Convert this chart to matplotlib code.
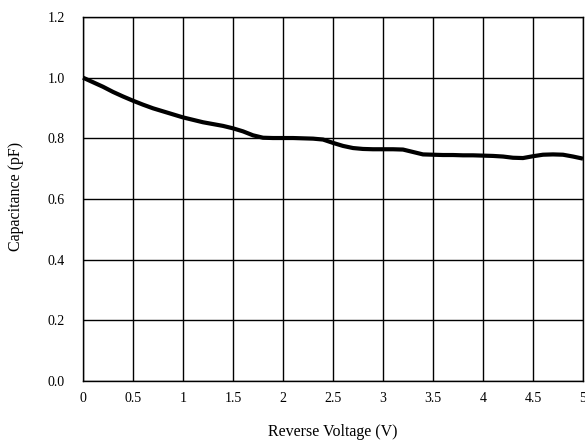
import matplotlib
matplotlib.use("Agg")
import matplotlib.pyplot as plt
import numpy as np

voltage = [0.0, 0.1, 0.2, 0.3, 0.4, 0.5, 0.6, 0.7, 0.8, 0.9, 1.0, 1.1, 1.2, 1.3, 1.4, 1.5, 1.6, 1.7, 1.8, 1.9,
           2.0, 2.1, 2.2, 2.3, 2.4, 2.5, 2.6, 2.7, 2.8, 2.9, 3.0, 3.1, 3.2, 3.3, 3.4, 3.5, 3.6, 3.7, 3.8, 3.9,
           4.0, 4.1, 4.2, 4.3, 4.4, 4.5, 4.6, 4.7, 4.8, 4.9, 5.0]
capacitance = [1.0, 0.985, 0.97, 0.953, 0.938, 0.924, 0.911, 0.899, 0.889, 0.879, 0.869, 0.861, 0.853, 0.847,
               0.841, 0.833, 0.823, 0.81, 0.802, 0.801, 0.801, 0.801, 0.800, 0.799, 0.796, 0.785, 0.775, 0.768,
               0.765, 0.764, 0.764, 0.764, 0.763, 0.755, 0.747, 0.746, 0.745, 0.745, 0.744, 0.744, 0.743, 0.742,
               0.740, 0.736, 0.735, 0.741, 0.746, 0.747, 0.746, 0.740, 0.733]
x_ticks = [0, 0.5, 1, 1.5, 2, 2.5, 3, 3.5, 4, 4.5, 5]
x_labels = ["0", "0.5", "1", "1.5", "2", "2.5", "3", "3.5", "4", "4.5", "5"]
y_ticks = [0.0, 0.2, 0.4, 0.6, 0.8, 1.0, 1.2]
y_labels = ["0.0", "0.2", "0.4", "0.6", "0.8", "1.0", "1.2"]

plt.rcParams['font.family'] = ['Liberation Serif', 'DejaVu Serif']

fig = plt.figure(figsize=(5.85, 4.44), dpi=100)
ax = fig.add_axes([83/585, 63/444, 500/585, 364/444])
ax.plot(voltage, capacitance, color='black', lw=3.0, solid_capstyle='butt', clip_on=False, zorder=3)
ax.set_xlim(0, 5)
ax.set_ylim(0, 1.2)
ax.set_xticks(x_ticks)
ax.set_xticklabels(x_labels)
ax.set_yticks(y_ticks)
ax.set_yticklabels(y_labels)
ax.grid(True, color='black', lw=1.0)
ax.set_axisbelow(True)
for s in ax.spines.values():
    s.set_color('black')
    s.set_linewidth(1.0)
ax.tick_params(length=0, labelsize=10)
ax.tick_params(axis='x', pad=8)
ax.tick_params(axis='y', pad=13)
fig.text(333/585, (444-432)/444, "Reverse Voltage (V)", fontsize=11.5, ha='center', va='center')
fig.text(16/585, (444-196)/444, "Capacitance (pF)", fontsize=11.5, ha='center', va='center', rotation=90)
fig.savefig("out.png", dpi=100)
